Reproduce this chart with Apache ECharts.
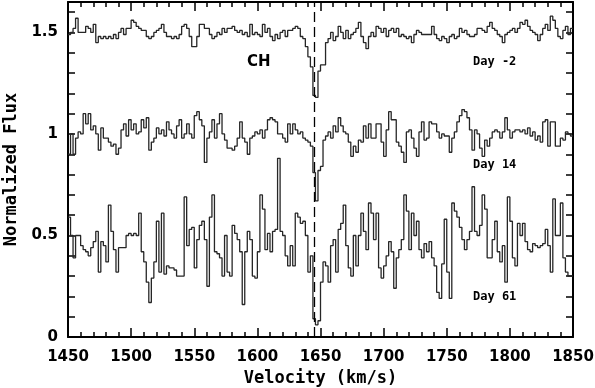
<!DOCTYPE html>
<html>
<head>
<meta charset="utf-8">
<script src="https://cdn.jsdelivr.net/npm/echarts@6/dist/echarts.min.js"></script>
<style>
  html, body { margin: 0; padding: 0; background: #fff; }
  #chart { width: 595px; height: 388px; }
</style>
</head>
<body>
<div id="chart"></div>
<script>
// 2 km/s bins starting at 1450 km/s
var velStart = 1450;
var binWidth = 2;
var chVelocity = 1645;

var dayM2 = [
  1.49, 1.50, 1.52, 1.57, 1.50, 1.50, 1.50, 1.53, 1.52, 1.50,
  1.54, 1.45, 1.48, 1.47, 1.48, 1.47, 1.48, 1.47, 1.49, 1.47,
  1.50, 1.52, 1.49, 1.52, 1.52, 1.56, 1.55, 1.53, 1.52, 1.51,
  1.51, 1.48, 1.47, 1.48, 1.50, 1.51, 1.52, 1.54, 1.50, 1.48,
  1.48, 1.47, 1.48, 1.47, 1.49, 1.53, 1.54, 1.52, 1.48, 1.43,
  1.43, 1.48, 1.54, 1.54, 1.52, 1.52, 1.49, 1.47, 1.48, 1.50,
  1.49, 1.52, 1.50, 1.52, 1.52, 1.53, 1.51, 1.50, 1.51, 1.49,
  1.50, 1.48, 1.54, 1.49, 1.50, 1.49, 1.48, 1.54, 1.50, 1.52,
  1.48, 1.46, 1.49, 1.47, 1.50, 1.51, 1.48, 1.51, 1.51, 1.52,
  1.53, 1.52, 1.48, 1.47, 1.43, 1.38, 1.33, 1.19, 1.18, 1.31,
  1.34, 1.34, 1.45, 1.47, 1.50, 1.46, 1.48, 1.53, 1.50, 1.47,
  1.51, 1.47, 1.49, 1.50, 1.52, 1.55, 1.48, 1.45, 1.42, 1.48,
  1.50, 1.48, 1.53, 1.52, 1.50, 1.52, 1.48, 1.51, 1.52, 1.50,
  1.52, 1.48, 1.49, 1.48, 1.47, 1.48, 1.45, 1.49, 1.51, 1.50,
  1.49, 1.49, 1.49, 1.49, 1.53, 1.49, 1.47, 1.46, 1.48, 1.47,
  1.45, 1.48, 1.49, 1.47, 1.48, 1.52, 1.50, 1.51, 1.49, 1.48,
  1.48, 1.49, 1.52, 1.52, 1.51, 1.50, 1.53, 1.55, 1.52, 1.51,
  1.49, 1.48, 1.45, 1.49, 1.50, 1.51, 1.52, 1.50, 1.52, 1.55,
  1.54, 1.56, 1.53, 1.51, 1.50, 1.49, 1.46, 1.49, 1.52, 1.54,
  1.51, 1.58, 1.56, 1.52, 1.48, 1.47, 1.51, 1.53, 1.49, 1.52
];

var day14 = [
  0.90, 1.00, 0.90, 0.98, 1.01, 1.00, 1.10, 1.05, 1.10, 1.02,
  1.04, 1.00, 0.92, 1.03, 0.98, 0.98, 0.96, 0.94, 0.95, 0.90,
  0.93, 1.02, 1.05, 0.99, 1.07, 1.02, 1.05, 1.00, 1.01, 1.07,
  1.03, 1.08, 0.92, 0.96, 0.98, 1.03, 1.00, 1.02, 0.99, 1.06,
  1.02, 1.00, 0.98, 1.04, 1.07, 0.98, 1.00, 1.05, 1.00, 0.98,
  1.09, 1.11, 1.07, 1.04, 0.86, 0.98, 1.01, 1.07, 0.98, 1.05,
  1.10, 1.00, 0.97, 0.93, 0.93, 0.92, 0.94, 0.98, 1.06, 0.98,
  0.96, 0.90, 0.98, 0.99, 1.01, 1.00, 1.02, 0.98, 1.02, 1.07,
  1.08, 1.07, 1.06, 1.00, 1.00, 0.98, 0.96, 1.05, 1.00, 1.05,
  1.02, 1.00, 1.01, 0.98, 0.97, 0.96, 0.94, 0.81, 0.67, 0.82,
  0.84, 0.97, 0.99, 1.01, 0.98, 1.04, 1.01, 1.08, 1.04, 1.01,
  1.00, 0.96, 0.89, 0.94, 0.91, 0.97, 0.96, 1.04, 0.98, 1.05,
  0.98, 0.98, 1.05, 1.05, 0.96, 0.89, 1.02, 1.11, 1.07, 1.07,
  0.96, 0.94, 0.91, 0.86, 1.01, 1.02, 0.98, 0.93, 0.89, 1.01,
  1.06, 0.97, 0.98, 1.06, 1.05, 1.05, 1.01, 0.98, 1.00, 0.99,
  0.99, 0.91, 0.98, 1.01, 1.06, 1.09, 1.12, 1.11, 1.08, 1.02,
  0.92, 1.02, 1.00, 0.93, 0.89, 0.97, 0.94, 0.98, 1.01, 1.02,
  1.01, 0.98, 1.01, 1.08, 1.02, 0.98, 1.01, 1.02, 1.02, 1.01,
  1.02, 1.00, 1.03, 0.99, 1.01, 0.97, 0.99, 0.96, 1.06, 1.07,
  0.94, 1.06, 1.06, 0.94, 0.94, 0.98, 0.97, 1.01, 1.00, 0.99
];

var day61 = [
  0.59, 0.50, 0.39, 0.50, 0.50, 0.45, 0.43, 0.42, 0.40, 0.44,
  0.47, 0.52, 0.32, 0.47, 0.45, 0.37, 0.65, 0.52, 0.43, 0.32,
  0.44, 0.44, 0.44, 0.50, 0.51, 0.50, 0.51, 0.50, 0.61, 0.42,
  0.37, 0.27, 0.17, 0.29, 0.37, 0.57, 0.32, 0.61, 0.31, 0.35,
  0.34, 0.34, 0.33, 0.30, 0.30, 0.30, 0.69, 0.45, 0.53, 0.54,
  0.34, 0.48, 0.55, 0.57, 0.48, 0.25, 0.59, 0.70, 0.42, 0.41,
  0.39, 0.30, 0.50, 0.32, 0.30, 0.55, 0.51, 0.48, 0.42, 0.16,
  0.42, 0.52, 0.48, 0.30, 0.29, 0.42, 0.70, 0.63, 0.43, 0.51,
  0.42, 0.52, 0.53, 0.88, 0.52, 0.50, 0.40, 0.35, 0.45, 0.35,
  0.61, 0.59, 0.56, 0.57, 0.50, 0.32, 0.40, 0.09, 0.06, 0.08,
  0.27, 0.37, 0.35, 0.27, 0.45, 0.48, 0.32, 0.53, 0.56, 0.65,
  0.45, 0.34, 0.30, 0.50, 0.35, 0.50, 0.61, 0.52, 0.43, 0.66,
  0.61, 0.48, 0.61, 0.34, 0.29, 0.35, 0.40, 0.47, 0.42, 0.24,
  0.39, 0.43, 0.48, 0.70, 0.62, 0.43, 0.61, 0.50, 0.57, 0.43,
  0.39, 0.46, 0.42, 0.47, 0.39, 0.35, 0.22, 0.19, 0.36, 0.58,
  0.32, 0.19, 0.66, 0.62, 0.59, 0.54, 0.48, 0.43, 0.48, 0.52,
  0.74, 0.52, 0.50, 0.55, 0.70, 0.63, 0.39, 0.39, 0.48, 0.57,
  0.42, 0.37, 0.45, 0.27, 0.69, 0.57, 0.39, 0.35, 0.56, 0.50,
  0.56, 0.47, 0.43, 0.42, 0.46, 0.45, 0.44, 0.45, 0.46, 0.53,
  0.45, 0.32, 0.68, 0.50, 0.50, 0.66, 0.39, 0.32, 0.30, 0.30
];

var seriesNames = ['Day -2', 'Day 14', 'Day 61'];

// bin left edges + closing point so the last bin is drawn full width
function toSteps(vals) {
    var pts = vals.map(function (v, i) { return [velStart + i * binWidth, v]; });
    pts.push([velStart + vals.length * binWidth, vals[vals.length - 1]]);
    return pts;
}

var myChart = echarts.init(document.getElementById('chart'), null, { renderer: 'canvas' });

var labelFont = { color: '#000', fontFamily: 'DejaVu Sans', fontWeight: 'bold', fontSize: 15 };
var nameFont = { color: '#000', fontFamily: 'DejaVu Sans Mono', fontWeight: 'bold', fontSize: 17 };
var frameLine = { show: true, onZero: false, lineStyle: { color: '#000', width: 2 } };

function xAx(pos, labels) {
    return {
        type: 'value', position: pos, min: 1450, max: 1850, interval: 50,
        axisLine: frameLine,
        axisTick: { show: true, inside: true, length: 9, lineStyle: { color: '#000', width: 1.5 } },
        minorTick: { show: true, splitNumber: 5, length: 5, lineStyle: { color: '#000', width: 1.5 } },
        splitLine: { show: false },
        axisLabel: Object.assign({
            show: labels, margin: 13,
            formatter: function (v) { return String(v); }
        }, labelFont),
        name: labels ? 'Velocity (km/s)' : '',
        nameLocation: 'middle', nameGap: 33, nameTextStyle: nameFont
    };
}

function yAx(pos, labels) {
    return {
        type: 'value', position: pos, min: 0, max: 1.65, interval: 0.1,
        axisLine: frameLine,
        axisTick: { show: true, inside: true, length: 7, lineStyle: { color: '#000', width: 1.5 } },
        splitLine: { show: false },
        axisLabel: Object.assign({
            show: labels, margin: 10, showMaxLabel: false,
            formatter: function (v) {
                var h = v * 2;
                return Math.abs(h - Math.round(h)) < 1e-6 ? String(Math.round(h) / 2) : '';
            }
        }, labelFont),
        name: labels ? 'Normalized Flux' : '',
        nameLocation: 'middle', nameGap: 45, nameTextStyle: nameFont
    };
}

var option = {
    animation: false,
    backgroundColor: '#fff',
    grid: { left: 68, right: 22, top: 2, bottom: 51, containLabel: false, outerBoundsMode: 'none' },
    xAxis: [xAx('bottom', true), xAx('top', false)],
    yAxis: [yAx('left', true), yAx('right', false)],
    series: [dayM2, day14, day61].map(function (vals, k) {
        var s = {
            name: seriesNames[k],
            type: 'line', step: 'end', symbol: 'none',
            data: toSteps(vals),
            lineStyle: { color: '#262626', width: 1.3 }
        };
        if (k === 0) {
            s.markLine = {
                silent: true, symbol: 'none', label: { show: false },
                lineStyle: { color: '#000', width: 1.3, type: [10, 5] },
                data: [{ xAxis: chVelocity }]
            };
        }
        return s;
    }),
    graphic: [
        { type: 'text', left: 247, top: 55, style: { text: 'CH', fill: '#000', font: 'bold 15px "DejaVu Sans"' } },
        { type: 'text', left: 473, top: 56, style: { text: 'Day -2', fill: '#000', font: 'bold 12px "DejaVu Sans Mono"' } },
        { type: 'text', left: 473, top: 159, style: { text: 'Day 14', fill: '#000', font: 'bold 12px "DejaVu Sans Mono"' } },
        { type: 'text', left: 473, top: 291, style: { text: 'Day 61', fill: '#000', font: 'bold 12px "DejaVu Sans Mono"' } }
    ]
};

myChart.setOption(option);
</script>
</body>
</html>
